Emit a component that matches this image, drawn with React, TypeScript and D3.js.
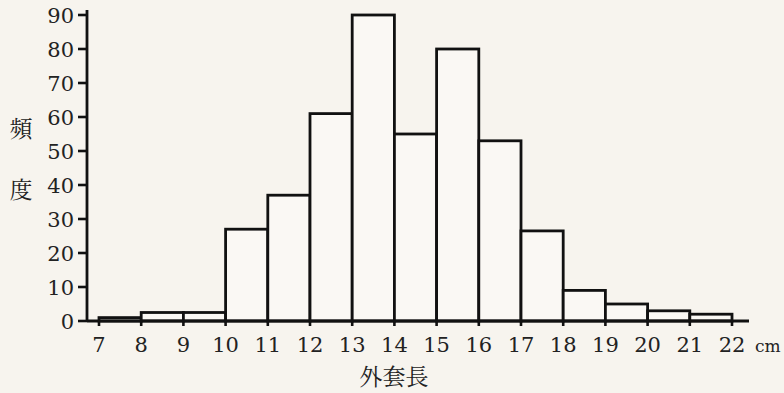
import React from "react";
import * as d3 from "d3";

const binStarts = [7, 8, 9, 10, 11, 12, 13, 14, 15, 16, 17, 18, 19, 20, 21];
const counts = [1, 2.5, 2.5, 27, 37, 61, 90, 55, 80, 53, 26.5, 9, 5, 3, 2];
const xTicks = [7, 8, 9, 10, 11, 12, 13, 14, 15, 16, 17, 18, 19, 20, 21, 22];
const yTicks = [0, 10, 20, 30, 40, 50, 60, 70, 80, 90];
const xUnit = "cm";
const xTitle = "外套長";
const yTitle = ["頻", "度"];

export default function App() {
  const W = 784, H = 393;
  const x = d3.scaleLinear().domain([7, 22]).range([99, 732]);
  const y = d3.scaleLinear().domain([0, 90]).range([321, 15]);
  const font = "'DejaVu Serif', 'Liberation Serif', serif";
  const cjk = "'Noto Serif CJK JP', 'Noto Sans CJK JP', serif";
  const axisX0 = 87;
  return (
    <svg width={W} height={H} style={{ position: "absolute", left: 0, top: 0, background: "#f7f4ee" }}>
      <rect x={0} y={0} width={W} height={H} fill="#f7f4ee" />
      {binStarts.map((s, i) => (
        <rect key={i} x={x(s)} y={y(counts[i])} width={x(s + 1) - x(s)} height={y(0) - y(counts[i])}
          fill="#faf8f4" stroke="#111" strokeWidth={2.8} />
      ))}
      <line x1={axisX0} x2={749} y1={y(0)} y2={y(0)} stroke="#111" strokeWidth={2.8} />
      <line x1={axisX0} x2={axisX0} y1={y(0) + 1} y2={10} stroke="#111" strokeWidth={2.8} />
      {yTicks.map(t => (
        <g key={t}>
          <line x1={axisX0 - 9} x2={axisX0} y1={y(t)} y2={y(t)} stroke="#111" strokeWidth={2.6} />
          <text x={74} y={y(t) + 7.5} textAnchor="end" fontFamily={font} fontSize={21} fill="#222">{t}</text>
        </g>
      ))}
      {xTicks.map(t => (
        <g key={t}>
          <line x1={x(t)} x2={x(t)} y1={y(0)} y2={y(0) + 5} stroke="#111" strokeWidth={2.6} />
          <text x={x(t)} y={352} textAnchor="middle" fontFamily={font} fontSize={21} fill="#222">{t}</text>
        </g>
      ))}
      <text x={755} y={352} fontFamily={font} fontSize={17} fill="#222">{xUnit}</text>
      <text x={394} y={385} textAnchor="middle" fontFamily={cjk} fontSize={23} fill="#222">{xTitle}</text>
      {yTitle.map((c, i) => (
        <text key={c} x={21} y={137 + i * 61} textAnchor="middle" fontFamily={cjk} fontSize={23} fill="#222">{c}</text>
      ))}
    </svg>
  );
}
